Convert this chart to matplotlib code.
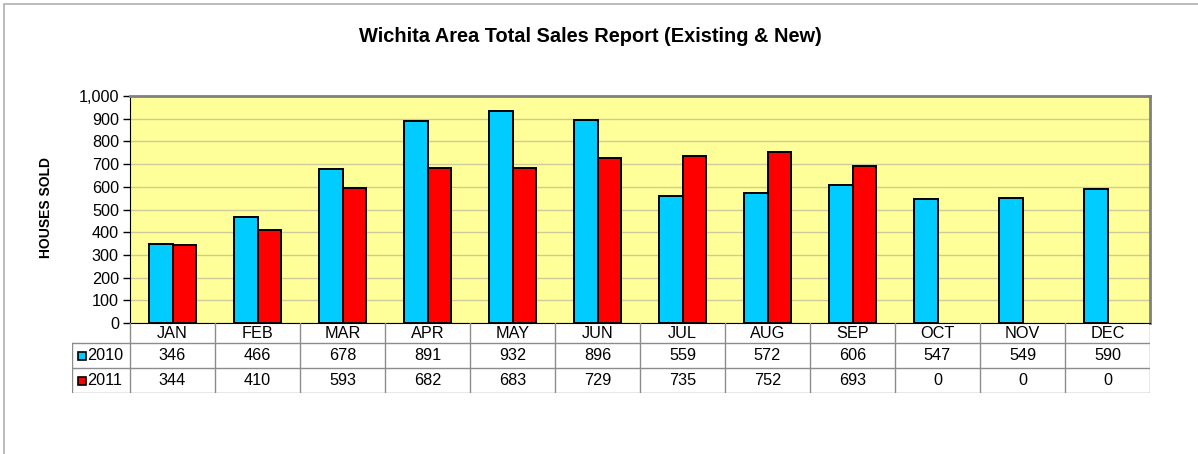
import matplotlib.pyplot as plt
from matplotlib.patches import Rectangle
from matplotlib.lines import Line2D
import numpy as np

months = ['JAN', 'FEB', 'MAR', 'APR', 'MAY', 'JUN', 'JUL', 'AUG', 'SEP', 'OCT', 'NOV', 'DEC']
sales_2010 = [346, 466, 678, 891, 932, 896, 559, 572, 606, 547, 549, 590]
sales_2011 = [344, 410, 593, 682, 683, 729, 735, 752, 693, 0, 0, 0]
series_names = ['2010', '2011']
colors = ['#00CCFF', '#FF0000']

plt.rcParams['font.family'] = ['Liberation Sans', 'DejaVu Sans']

W, H = 1198, 454
fig = plt.figure(figsize=(W / 100, H / 100), dpi=100)

def px_axes(x0, y0, x1, y1):
    # pixel box (top-left origin) -> figure axes
    return fig.add_axes([x0 / W, 1 - y1 / H, (x1 - x0) / W, (y1 - y0) / H])

# outer chart frame
fig.add_artist(Rectangle((4 / W, -0.1), 1.1, 1 - 3.5 / H + 0.1, transform=fig.transFigure,
                         fill=False, edgecolor='#b0b0b0', lw=1.2))

fig.text(590 / W, 1 - 37 / H, 'Wichita Area Total Sales Report (Existing & New)',
         ha='center', va='center', fontsize=14.4, fontweight='bold')

# main plot
ax = px_axes(130, 96, 1150, 323)
ax.set_facecolor('#FFFF99')
x = np.arange(len(months))
bw = 0.282
for off, vals, c in [(-bw / 2, sales_2010, colors[0]), (bw / 2, sales_2011, colors[1])]:
    bars = ax.bar(x + off, vals, bw, color=c, edgecolor='black', lw=1.4, zorder=3)
    for b, v in zip(bars, vals):
        if v == 0:
            b.set_linewidth(0)
ax.set_xlim(-0.5, len(months) - 0.5)
ax.set_ylim(0, 1000)
ax.set_yticks(np.arange(0, 1001, 100))
ax.set_yticklabels([f'{v:,}' for v in range(0, 1001, 100)], fontsize=11.7)
ax.yaxis.grid(True, color='#cdcb9a', lw=1.0, zorder=0)
ax.set_axisbelow(True)
ax.set_xticks([])
ax.tick_params(axis='y', direction='out', length=5, width=1, pad=3)
for s in ['top', 'right']:
    ax.spines[s].set_color('#808080')
    ax.spines[s].set_linewidth(2)
ax.spines['left'].set_color('black')
ax.spines['bottom'].set_color('black')
fig.text(46 / W, 1 - 208 / H, 'HOUSES SOLD', rotation=90, ha='center', va='center',
         fontsize=10, fontweight='bold')

# data table below the plot
tab = px_axes(72, 323, 1150, 393)
left = -0.5 - 58 / 85
tab.set_xlim(left, len(months) - 0.5)
tab.set_ylim(70, 0)
tab.axis('off')
lc = '#8c8c8c'
row_edges = [20, 45, 70]
for y in row_edges:
    tab.add_line(Line2D([left, len(months) - 0.5], [y, y], color=lc, lw=1))
tab.add_line(Line2D([left, left], [20, 70], color=lc, lw=1))
for k in range(len(months) + 1):
    tab.add_line(Line2D([k - 0.5, k - 0.5], [0, 70], color=lc, lw=1))
for i, m in enumerate(months):
    tab.text(i, 10.5, m, ha='center', va='center', fontsize=11.7)
for r, (vals, name, c) in enumerate(zip([sales_2010, sales_2011], series_names, colors)):
    yc = 32.5 + 25 * r
    for i, v in enumerate(vals):
        tab.text(i, yc, str(v), ha='center', va='center', fontsize=11.7)
    tab.add_patch(Rectangle((left + 6 / 85, yc - 4), 8 / 85, 8, facecolor=c,
                            edgecolor='black', lw=1.2, clip_on=False))
    tab.text(left + 15.5 / 85, yc, name, ha='left', va='center', fontsize=11.7)

fig.savefig('out.png', dpi=100)
